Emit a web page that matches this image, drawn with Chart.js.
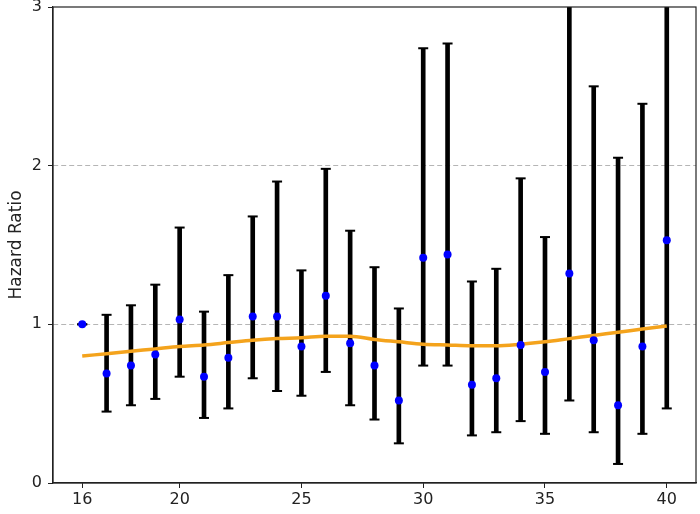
<!DOCTYPE html>
<html>
<head>
<meta charset="utf-8">
<script src="https://cdn.jsdelivr.net/npm/chart.js@4"></script>
<style>
  html, body { margin: 0; padding: 0; background: #fff; }
  #wrap { width: 700px; height: 514px; }
</style>
</head>
<body>
<div id="wrap"><canvas id="chart"></canvas></div>
<script>
// values
const ages = [16, 17, 18, 19, 20, 21, 22, 23, 24, 25, 26, 27, 28, 29, 30, 31, 32, 33, 34, 35, 36, 37, 38, 39, 40];
const hazard = [1.00, 0.69, 0.74, 0.81, 1.03, 0.67, 0.79, 1.05, 1.05, 0.86, 1.18, 0.88, 0.74, 0.52, 1.42, 1.44, 0.62, 0.66, 0.87, 0.70, 1.32, 0.90, 0.49, 0.86, 1.53];
const lower = [1.00, 0.45, 0.49, 0.53, 0.67, 0.41, 0.47, 0.66, 0.58, 0.55, 0.70, 0.49, 0.40, 0.25, 0.74, 0.74, 0.30, 0.32, 0.39, 0.31, 0.52, 0.32, 0.12, 0.31, 0.47];
const upper = [1.00, 1.06, 1.12, 1.25, 1.61, 1.08, 1.31, 1.68, 1.90, 1.34, 1.98, 1.59, 1.36, 1.10, 2.74, 2.77, 1.27, 1.35, 1.92, 1.55, 3.40, 2.50, 2.05, 2.39, 3.60];
const trend = [0.80, 0.815, 0.83, 0.845, 0.86, 0.87, 0.885, 0.90, 0.91, 0.915, 0.925, 0.925, 0.905, 0.89, 0.875, 0.87, 0.865, 0.865, 0.875, 0.89, 0.91, 0.93, 0.95, 0.97, 0.99];
const xTicks = [16, 20, 25, 30, 35, 40];
const yTicks = [0, 1, 2, 3];

const FONT = `'DejaVu Sans', sans-serif`;

const frame = {
  id: `frame`,
  afterDatasetsDraw(chart) {
    const { ctx, chartArea: a } = chart;
    ctx.save();
    ctx.strokeStyle = `#222`;
    ctx.lineWidth = 1.2;
    ctx.strokeRect(a.left, a.top, a.right - a.left, a.bottom - a.top);
    ctx.restore();
  },
};

const caps = [];
ages.forEach((x, i) => {
  caps.push({ x, y: lower[i] });
  caps.push({ x, y: upper[i] });
});

new Chart(document.getElementById(`chart`), {
  type: `bar`,
  data: {
    datasets: [
      {
        type: `bar`,
        data: ages.map((x, i) => ({ x, y: [lower[i], upper[i]] })),
        backgroundColor: `#000`,
        borderWidth: 0,
        barThickness: 4,
        order: 4,
      },
      {
        type: `line`,
        data: caps,
        showLine: false,
        pointStyle: `line`,
        pointRadius: 5,
        pointBorderWidth: 2,
        pointBorderColor: `#000`,
        order: 3,
      },
      {
        type: `line`,
        data: ages.map((x, i) => ({ x, y: trend[i] })),
        borderColor: `#f4a31c`,
        borderWidth: 3.5,
        pointRadius: 0,
        tension: 0.4,
        cubicInterpolationMode: `monotone`,
        order: 2,
      },
      {
        type: `line`,
        data: ages.map((x, i) => ({ x, y: hazard[i] })),
        showLine: false,
        pointRadius: 4,
        pointBackgroundColor: `#0000ff`,
        pointBorderWidth: 0,
        order: 1,
      },
    ],
  },
  options: {
    responsive: true,
    maintainAspectRatio: false,
    animation: false,
    events: [],
    layout: { autoPadding: false, padding: { top: 7, right: 4, left: 0, bottom: 0 } },
    plugins: { legend: { display: false }, tooltip: { enabled: false } },
    scales: {
      x: {
        type: `linear`,
        min: 14.8,
        max: 41.2,
        offset: false,
        afterBuildTicks: (scale) => { scale.ticks = xTicks.map((v) => ({ value: v })); },
        afterFit: (scale) => {
          scale.height = 31;
          scale.paddingLeft = 0;
          scale.paddingRight = 0;
        },
        grid: { offset: false, drawOnChartArea: false, drawTicks: true, tickLength: 5, tickColor: `#222` },
        border: { color: `#222`, width: 1.2 },
        ticks: { color: `#222`, padding: 2, maxRotation: 0, font: { family: FONT, size: 16 } },
      },
      y: {
        min: 0,
        max: 3,
        afterBuildTicks: (scale) => { scale.ticks = yTicks.map((v) => ({ value: v })); },
        afterFit: (scale) => {
          scale.width = 53;
          scale.paddingTop = 0;
          scale.paddingBottom = 0;
        },
        grid: {
          color: (c) => (c.tick && (c.tick.value === 0 || c.tick.value === 3) ? `rgba(0,0,0,0)` : `#b5b5b5`),
          lineWidth: 1,
          tickLength: 5,
          tickColor: `#222`,
        },
        border: { color: `#222`, width: 1.2, dash: [5, 3] },
        ticks: { color: `#222`, padding: 6, font: { family: FONT, size: 16 } },
        title: {
          display: true,
          text: `Hazard Ratio`,
          color: `#222`,
          padding: { top: 6, bottom: 0 },
          font: { family: FONT, size: 17 },
        },
      },
    },
  },
  plugins: [frame],
});
</script>
</body>
</html>
